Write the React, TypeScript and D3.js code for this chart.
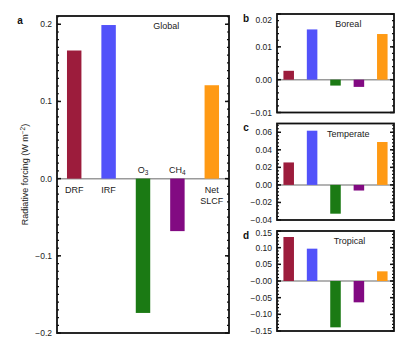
import React from "react";
import * as d3 from "d3";

const categories = ["DRF", "IRF", "O3", "CH4", "Net SLCF"];
const barColors = ["#9c1c3c", "#5252fa", "#1b7a14", "#820a82", "#ff9a14"];

const globalValues = [0.166, 0.199, -0.174, -0.068, 0.121];
const borealValues = [0.0027, 0.0153, -0.0018, -0.0022, 0.0139];
const temperateValues = [0.0256, 0.0618, -0.0328, -0.0064, 0.0489];
const tropicalValues = [0.132, 0.097, -0.139, -0.064, 0.029];

const globalTicks = [0.2, 0.1, 0.0, -0.1, -0.2];
const globalTickLabels = ["0.2", "0.1", "0.0", "\u22120.1", "\u22120.2"];
const borealTicks = [0.02, 0.01, 0.0, -0.01];
const borealTickLabels = ["0.02", "0.01", "0.00", "\u22120.01"];
const temperateTicks = [0.06, 0.04, 0.02, 0.0, -0.02, -0.04];
const temperateTickLabels = ["0.06", "0.04", "0.02", "0.00", "\u22120.02", "\u22120.04"];
const tropicalTicks = [0.15, 0.1, 0.05, 0.0, -0.05, -0.1, -0.15];
const tropicalTickLabels = ["0.15", "0.10", "0.05", "\u22120.00", "\u22120.05", "\u22120.10", "\u22120.15"];

const FONT = "'Liberation Sans', Arial, Helvetica, sans-serif";

type PanelProps = {
  x: number;
  y: number;
  w: number;
  h: number;
  domain: [number, number];
  values: number[];
  ticks: number[];
  tickLabels: string[];
  minorStep: number;
  title: string;
  titlePos: number;
  letter: string;
  pad: number;
  topLabelShift: number;
  catLabels?: boolean;
};

function Panel(p: PanelProps) {
  const yScale = d3.scaleLinear().domain(p.domain).range([p.y + p.h, p.y]);
  const xScale = d3
    .scaleBand<string>()
    .domain(categories)
    .range([p.x, p.x + p.w])
    .paddingInner(p.pad)
    .paddingOuter(p.pad / 2);
  const y0 = yScale(0);
  const minors: number[] = [];
  const start = Math.ceil(p.domain[0] / p.minorStep - 1e-6);
  for (let i = start; i * p.minorStep <= p.domain[1] + 1e-9; i++) {
    minors.push(i * p.minorStep);
  }
  const majorLen = 4;
  const minorLen = 2;
  const L = p.x;
  const R = p.x + p.w;
  return (
    <g>
      <line x1={L} x2={R} y1={y0} y2={y0} stroke="#9a9a9a" strokeWidth={1.5} />
      {p.values.map((v, i) => {
        const c = categories[i];
        const top = Math.min(yScale(v), y0);
        const hgt = Math.abs(yScale(v) - y0);
        return (
          <rect
            key={c}
            x={xScale(c)}
            y={top}
            width={xScale.bandwidth()}
            height={hgt}
            fill={barColors[i]}
          />
        );
      })}
      {minors.map((m, i) => (
        <g key={"m" + i}>
          <line x1={L} x2={L + minorLen} y1={yScale(m)} y2={yScale(m)} stroke="#111" strokeWidth={1.2} />
          <line x1={R} x2={R - minorLen} y1={yScale(m)} y2={yScale(m)} stroke="#111" strokeWidth={1.2} />
        </g>
      ))}
      {p.ticks.map((t, i) => {
        const ty = yScale(t);
        const atTop = Math.abs(ty - p.y) < 2;
        return (
          <g key={"t" + i}>
            <line x1={L} x2={L + majorLen} y1={ty} y2={ty} stroke="#111" strokeWidth={1.5} />
            <line x1={R} x2={R - majorLen} y1={ty} y2={ty} stroke="#111" strokeWidth={1.5} />
            <text
              x={L - 5}
              y={ty + (atTop ? p.topLabelShift : 0)}
              textAnchor="end"
              dominantBaseline="central"
              fontSize={8.5}
              fontFamily={FONT}
              fill="#222"
            >
              {p.tickLabels[i]}
            </text>
          </g>
        );
      })}
      <rect x={L} y={p.y} width={p.w} height={p.h} fill="none" stroke="#111" strokeWidth={1.8} />
      <text
        x={p.x + p.w * p.titlePos}
        y={p.y + 10}
        textAnchor="middle"
        dominantBaseline="central"
        fontSize={9}
        fontFamily={FONT}
        fill="#222"
      >
        {p.title}
      </text>
      <text
        x={p.x - (p.catLabels ? 37 : 31)}
        y={p.y + 4}
        textAnchor="middle"
        dominantBaseline="central"
        fontSize={10}
        fontWeight="bold"
        fontFamily={FONT}
        fill="#111"
      >
        {p.letter}
      </text>
      {p.catLabels &&
        p.values.map((v, i) => {
          const c = categories[i];
          const cx = (xScale(c) as number) + xScale.bandwidth() / 2;
          const below = v > 0;
          const baseY = below ? y0 + 11 : y0 - 9;
          const words = c.split(" ");
          const sub = c === "O3" ? "3" : c === "CH4" ? "4" : null;
          if (sub) {
            const main = c.slice(0, c.length - 1);
            return (
              <text
                key={"c" + i}
                x={cx}
                y={baseY}
                textAnchor="middle"
                dominantBaseline="central"
                fontSize={9}
                fontFamily={FONT}
                fill="#222"
              >
                {main}
                <tspan fontSize={6.5} dy={2.5}>
                  {sub}
                </tspan>
              </text>
            );
          }
          return words.map((wd, j) => (
            <text
              key={"c" + i + "_" + j}
              x={cx}
              y={baseY + j * 11}
              textAnchor="middle"
              dominantBaseline="central"
              fontSize={9}
              fontFamily={FONT}
              fill="#222"
            >
              {wd}
            </text>
          ));
        })}
    </g>
  );
}

export default function App() {
  const a = { x: 57, y: 16, w: 172, h: 317 };
  return (
    <svg
      width={414}
      height={343}
      style={{ position: "absolute", left: 0, top: 0, background: "#fff" }}
    >
      <rect x={0} y={0} width={414} height={343} fill="#fff" />
      <Panel
        {...a}
        domain={[-0.2, 0.2107]}
        values={globalValues}
        ticks={globalTicks}
        tickLabels={globalTickLabels}
        minorStep={0.01}
        title="Global"
        titlePos={0.635}
        letter="a"
        pad={0.58}
        topLabelShift={0}
        catLabels
      />
      <text
        transform={`translate(25, ${a.y + a.h * 0.5}) rotate(-90)`}
        textAnchor="middle"
        dominantBaseline="central"
        fontSize={9}
        fontFamily={FONT}
        fill="#222"
      >
        Radiative forcing (W m
        <tspan fontSize={6.5} dy={-3.5}>
          {"\u22122"}
        </tspan>
        <tspan dy={3.5}>)</tspan>
      </text>
      <Panel
        x={277}
        y={14}
        w={117}
        h={98.5}
        domain={[-0.01, 0.02]}
        values={borealValues}
        ticks={borealTicks}
        tickLabels={borealTickLabels}
        minorStep={0.002}
        title="Boreal"
        titlePos={0.61}
        letter="b"
        pad={0.55}
        topLabelShift={6}
      />
      <Panel
        x={277}
        y={123.5}
        w={117}
        h={96.5}
        domain={[-0.04, 0.07]}
        values={temperateValues}
        ticks={temperateTicks}
        tickLabels={temperateTickLabels}
        minorStep={0.004}
        title="Temperate"
        titlePos={0.61}
        letter="c"
        pad={0.55}
        topLabelShift={2}
      />
      <Panel
        x={277}
        y={231}
        w={117}
        h={100}
        domain={[-0.15, 0.15]}
        values={tropicalValues}
        ticks={tropicalTicks}
        tickLabels={tropicalTickLabels}
        minorStep={0.01}
        title="Tropical"
        titlePos={0.62}
        letter="d"
        pad={0.55}
        topLabelShift={1.5}
      />
    </svg>
  );
}
